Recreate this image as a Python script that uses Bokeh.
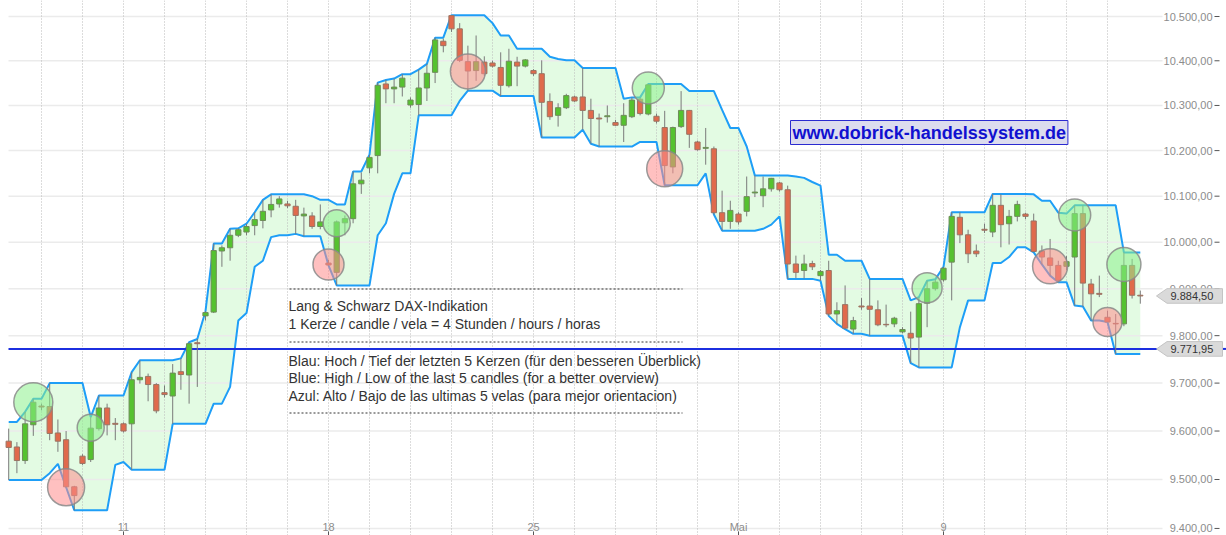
import math
import numpy as np
import pandas as pd
from bokeh.plotting import figure
from bokeh.models import Range1d, ColumnDataSource, Label
from bokeh.core.properties import value
from bokeh.embed import file_html
from bokeh.resources import INLINE

# ---------------- data (Lang & Schwarz DAX indication, 4h candles) ----------------
# candle index 0 = first candle of Monday 11 April, 5 candles per trading day
first_candle = -14
opens = [
    9579, 9567, 9539, 9613, 9652, 9651, 9596, 9582, 9485, 9548,
    9541, 9605, 9648, 9616, 9615, 9615, 9707, 9714, 9697, 9680,
    9673, 9724, 9717, 9785, 9842, 9850, 9981, 9988, 10015, 10022,
    10036, 10047, 10070, 10083, 10083, 10078, 10057, 10057, 10034, 9955,
    9935, 10042, 10051, 10127, 10162, 10189, 10348, 10337, 10341, 10301,
    10302, 10339, 10374, 10444, 10502, 10472, 10398, 10378, 10397, 10395,
    10385, 10344, 10397, 10388, 10378, 10371, 10309, 10278, 10295, 10319,
    10319, 10289, 10272, 10275, 10262, 10256, 10275, 10314, 10281, 10276,
    10251, 10164, 10253, 10289, 10219, 10205, 10204, 10064, 10045, 10061,
    10067, 10107, 10101, 10116, 10129, 10114, 9953, 9939, 9954, 9928,
    9939, 9846, 9866, 9814, 9863, 9863, 9855, 9824, 9825, 9808,
    9805, 9797, 9869, 9900, 9919, 9957, 10054, 10016, 9981, 10028,
    10022, 10080, 10040, 10056, 10061, 10046, 9981, 9966, 9950, 9948,
    9968, 10062, 9910, 9890, 9839, 9826, 9825, 9950, 9886,
]
highs = [
    9605, 9577, 9640, 9667, 9657, 9700, 9624, 9600, 9487, 9552,
    9629, 9674, 9657, 9627, 9618, 9723, 9748, 9720, 9700, 9695,
    9740, 9752, 9786, 9793, 9852, 9997, 9993, 10029, 10030, 10040,
    10065, 10092, 10104, 10100, 10090, 10092, 10075, 10065, 10082, 9962,
    10047, 10058, 10154, 10152, 10191, 10351, 10357, 10360, 10370, 10318,
    10380, 10393, 10452, 10450, 10503, 10485, 10434, 10457, 10410, 10400,
    10419, 10427, 10409, 10404, 10381, 10401, 10327, 10305, 10326, 10322,
    10384, 10315, 10282, 10300, 10268, 10305, 10318, 10318, 10348, 10282,
    10288, 10253, 10332, 10290, 10222, 10250, 10209, 10112, 10090, 10065,
    10143, 10145, 10143, 10140, 10131, 10123, 9971, 9973, 9960, 9940,
    9960, 9871, 9907, 9840, 9880, 9921, 9875, 9866, 9840, 9818,
    9851, 9882, 9917, 9920, 9947, 10065, 10065, 10027, 9995, 10040,
    10105, 10104, 10070, 10090, 10064, 10062, 9993, 10007, 9960, 9970,
    10080, 10080, 9921, 9928, 9853, 9846, 9978, 9964, 9896,
]
lows = [
    9499, 9513, 9532, 9590, 9643, 9581, 9557, 9484, 9437, 9530,
    9536, 9601, 9591, 9581, 9597, 9520, 9699, 9662, 9637, 9670,
    9615, 9686, 9657, 9692, 9832, 9848, 9947, 9960, 10011, 10015,
    10015, 10030, 10054, 10075, 10074, 10018, 10013, 10029, 10028, 9950,
    9907, 10015, 10041, 10105, 10150, 10150, 10305, 10305, 10320, 10295,
    10278, 10310, 10350, 10419, 10465, 10397, 10333, 10355, 10366, 10385,
    10321, 10340, 10343, 10385, 10366, 10229, 10268, 10253, 10292, 10308,
    10246, 10215, 10209, 10262, 10255, 10219, 10272, 10278, 10278, 10260,
    10124, 10150, 10250, 10206, 10200, 10169, 10060, 10025, 10029, 10038,
    10056, 10098, 10076, 10110, 10110, 9921, 9923, 9922, 9940, 9917,
    9842, 9825, 9814, 9804, 9855, 9800, 9820, 9818, 9818, 9805,
    9742, 9733, 9818, 9896, 9915, 9875, 9998, 9955, 9968, 10020,
    10011, 9989, 9995, 10045, 10050, 9978, 9952, 9928, 9914, 9940,
    9864, 9862, 9832, 9882, 9829, 9761, 9820, 9879, 9868,
]
closes = [
    9566, 9539, 9615, 9660, 9650, 9595, 9579, 9485, 9467, 9533,
    9606, 9648, 9613, 9614, 9600, 9707, 9712, 9697, 9642, 9676,
    9721, 9718, 9783, 9783, 9849, 9982, 9988, 10015, 10027, 10034,
    10049, 10067, 10082, 10094, 10079, 10058, 10061, 10034, 10044, 9951,
    10044, 10051, 10127, 10135, 10185, 10345, 10337, 10341, 10361, 10312,
    10339, 10372, 10447, 10434, 10472, 10401, 10377, 10398, 10371, 10388,
    10345, 10399, 10388, 10402, 10371, 10307, 10275, 10295, 10322, 10310,
    10289, 10271, 10270, 10277, 10256, 10278, 10312, 10282, 10346, 10265,
    10167, 10251, 10289, 10236, 10202, 10207, 10064, 10045, 10069, 10044,
    10099, 10109, 10116, 10139, 10114, 9953, 9935, 9953, 9947, 9937,
    9846, 9853, 9816, 9832, 9861, 9856, 9823, 9823, 9837, 9813,
    9795, 9868, 9900, 9914, 9944, 10056, 10016, 9975, 9975, 10026,
    10080, 10038, 10056, 10082, 10056, 9980, 9968, 9950, 9918, 9958,
    10062, 9912, 9889, 9888, 9829, 9825, 9950, 9886, 9884.5,
]
# channel (high / low of the last 5 candles) for the first candles, whose window starts off-chart
channel_upper_start = [9619, 9619, 9640, 9667]
channel_lower_start = [9499, 9499, 9499, 9499]

# breakout markers
signal_candle = [-11, -4, -7, 26, 25, 42, 64, 66, 98, 113, 116, 122, 120]
signal_price = [9660, 9607, 9484, 10041, 9952, 10376, 10339, 10160, 9902, 9948, 10059, 9952, 9829]
signal_type = ["buy", "buy", "sell", "buy", "sell", "sell", "buy", "sell", "buy", "sell", "buy", "buy", "sell"]

day_labels = ["11", "18", "25", "Mai", "9"]
label_day_index = [0, 5, 10, 15, 20]
grid_day_index = list(range(-2, 25))
price_ticks = [9400, 9500, 9600, 9700, 9800, 9900, 10000, 10100, 10200, 10300, 10400, 10500]
last_price = 9884.50
level_price = 9771.95

info_lines_1 = ["Lang & Schwarz DAX-Indikation",
                "1 Kerze / candle / vela = 4 Stunden / hours / horas"]
info_lines_2 = ["Blau: Hoch / Tief der letzten 5 Kerzen (für den besseren Überblick)",
                "Blue: High / Low of the last 5 candles (for a better overview)",
                "Azul: Alto / Bajo de las ultimas 5 velas (para mejor orientacion)"]
website = "www.dobrick-handelssystem.de"

# ---------------- styles / layout ----------------
signal_size = [39, 27, 37, 27, 31, 35, 32, 36, 30, 35, 32, 34, 29]
CANDLES_PER_DAY = 5
W, H = 1226, 535
FONT = "Liberation Sans"
GREEN, GREEN_LINE = "#55c22f", "#6f8c5a"
RED, RED_LINE = "#e06a4c", "#9a7464"
CHANNEL = "#1e9ef7"
FILL = "#e3fbe3"

# canvas px <-> data helpers (layout only)
def sx_to_x(sx):
    return (sx - 123.0) / 8.2

def sy_to_p(sy):
    return 10500.0 * math.exp(-(sy - 16.0) / 4626.0)

def p_to_sy(price):
    return 16.0 + 4626.0 * math.log(10500.0 / price)

def fy(sy):  # canvas y from top -> from bottom (Label screen units)
    return H - sy

# ---------------- derived ----------------
n = len(opens)
idx = np.arange(first_candle, first_candle + n)
o = np.array(opens, float); c = np.array(closes, float)
hi = np.array(highs, float); lo = np.array(lows, float)
upper = pd.Series(hi).rolling(5, min_periods=1).max().to_numpy()
lower = pd.Series(lo).rolling(5, min_periods=1).min().to_numpy()
upper[:len(channel_upper_start)] = channel_upper_start
lower[:len(channel_lower_start)] = channel_lower_start

up = c >= o
candles = ColumnDataSource(dict(
    x=idx, top=np.maximum(o, c), bottom=np.minimum(o, c), high=hi, low=lo,
    fill=[GREEN if u else RED for u in up], line=[GREEN_LINE if u else RED_LINE for u in up]))

def fmt(v):
    s = f"{v:,.2f}"
    return s.replace(",", "X").replace(".", ",").replace("X", ".")

x_lo, x_hi = sx_to_x(0), sx_to_x(W)
y_lo, y_hi = sy_to_p(H), sy_to_p(0)

p = figure(width=W, height=H, x_range=Range1d(x_lo, x_hi), y_range=Range1d(y_lo, y_hi),
           y_axis_type="log", x_axis_location=None, y_axis_location=None,
           toolbar_location=None, output_backend="svg", min_border=0,
           outline_line_color=None, background_fill_color="white", border_fill_color="white")
p.xgrid.visible = False
p.ygrid.visible = False

# channel fill
p.varea(x=idx, y1=lower, y2=upper, fill_color=FILL)

# grid
p.segment(x0=sx_to_x(8), x1=sx_to_x(1162), y0=price_ticks, y1=price_ticks, line_color="#ebebeb", line_width=1.5)
gx = [CANDLES_PER_DAY * d for d in grid_day_index]
p.segment(x0=gx, x1=gx, y0=y_lo, y1=y_hi, line_color="#b8b8b8", line_dash="1 2", line_width=1)

# channel lines
p.line(idx, upper, line_color=CHANNEL, line_width=2)
p.line(idx, lower, line_color=CHANNEL, line_width=2)

# level line
p.segment(x0=sx_to_x(8), x1=sx_to_x(1157), y0=level_price, y1=level_price, line_color="#1c2fe0", line_width=2)
p.segment(x0=sx_to_x(1221), x1=sx_to_x(1226), y0=level_price, y1=level_price, line_color="#1c2fe0", line_width=2)

# candles
p.segment(x0="x", x1="x", y0="high", y1="low", source=candles, line_color="#7a7a7a", line_width=1)
p.vbar(x="x", width=0.64, top="top", bottom="bottom", source=candles,
       fill_color="fill", line_color="line", line_width=1)

# signal circles
sig = ColumnDataSource(dict(x=signal_candle, y=signal_price, size=signal_size,
                            fill=["#8df08d" if t == "buy" else "#ff8c8c" for t in signal_type]))
p.scatter(x="x", y="y", size="size", source=sig, fill_color="fill", fill_alpha=0.55,
          line_color="#8a8a8a", line_alpha=0.85, line_width=1.5)

# info block
for sy in (288.5, 341.5, 412.5):
    p.segment(x0=sx_to_x(289), x1=sx_to_x(682), y0=sy_to_p(sy), y1=sy_to_p(sy),
              line_color="#333333", line_dash="2 2", line_width=1)
for t, sy in zip(info_lines_1 + info_lines_2, (305.7, 323.3, 360, 377.3, 395)):
    p.add_layout(Label(x=288, y=fy(sy), x_units="screen", y_units="screen", text=t,
                       text_font=FONT, text_font_size="14px", text_color="#333333",
                       text_baseline="middle", text_align="left"))

p.add_layout(Label(x=790, y=fy(132), x_units="screen", y_units="screen", text=website,
                   text_font=FONT, text_font_size="18px", text_font_style="bold",
                   text_color="#1010d0", text_baseline="middle", text_align="left",
                   background_fill_color="#dcdcee", border_line_color="#2a2ad0",
                   border_line_width=1, padding=2))

# right axis labels and ticks
p.text(x=sx_to_x(1212), y=price_ticks, text=[fmt(v) for v in price_ticks], text_align="right",
       text_baseline="middle", text_font=value(FONT), text_font_size="11px", text_color="#8c8c8c")
p.segment(x0=sx_to_x(1214), x1=sx_to_x(1219), y0=price_ticks, y1=price_ticks, line_color="#555555", line_width=1)

# price tags
for price in (last_price, level_price):
    cy = p_to_sy(price)
    xs = [sx_to_x(1156), sx_to_x(1166.5), sx_to_x(1222), sx_to_x(1222), sx_to_x(1166.5)]
    ys = [price, sy_to_p(cy - 7.3), sy_to_p(cy - 7.3), sy_to_p(cy + 7.3), sy_to_p(cy + 7.3)]
    p.patch(xs, ys, fill_color="#dadada", line_color="#c4c4c4", line_width=1)
    p.text(x=[sx_to_x(1170)], y=[price], text=[fmt(price)], text_align="left", text_baseline="middle",
           text_font=value(FONT), text_font_size="11px", text_color="#333333")

# x labels with small ticks
lx = [CANDLES_PER_DAY * d for d in label_day_index]
p.text(x=lx, y=[sy_to_p(526)] * len(lx), text=day_labels, text_align="center", text_baseline="middle",
       text_font=value(FONT), text_font_size="11px", text_color="#8c8c8c")
p.segment(x0=lx, x1=lx, y0=sy_to_p(531), y1=sy_to_p(535), line_color="#555555", line_width=1)

open("out.html", "w").write(file_html(p, INLINE))
